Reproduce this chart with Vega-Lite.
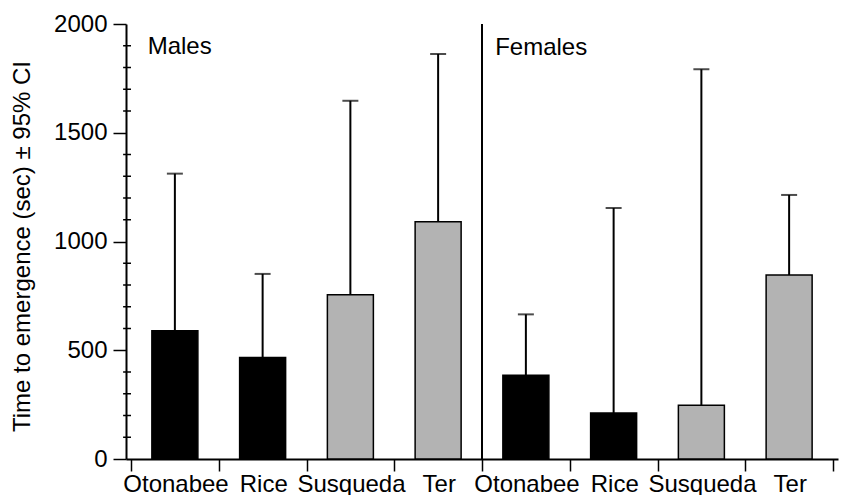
{
  "$schema": "https://vega.github.io/schema/vega-lite/v6.json",
  "width": 712,
  "height": 435,
  "autosize": {"type": "none"},
  "padding": {"left": 126, "top": 24, "right": 9, "bottom": 36},
  "background": "white",
  "config": {
    "view": {"stroke": null},
    "font": "Liberation Sans",
    "axis": {
      "labelFont": "Liberation Sans",
      "titleFont": "Liberation Sans",
      "labelColor": "black",
      "titleColor": "black",
      "domainColor": "black",
      "tickColor": "black",
      "domainWidth": 2,
      "tickWidth": 1.5,
      "labelFontSize": 24,
      "grid": false
    }
  },
  "datasets": {
    "bars": [
      {"pos": 0.5, "site": "Otonabee", "sex": "Males", "mean": 590, "upper": 1312, "river": "Canada"},
      {"pos": 1.5, "site": "Rice", "sex": "Males", "mean": 467, "upper": 851, "river": "Canada"},
      {"pos": 2.5, "site": "Susqueda", "sex": "Males", "mean": 755, "upper": 1647, "river": "Spain"},
      {"pos": 3.5, "site": "Ter", "sex": "Males", "mean": 1091, "upper": 1862, "river": "Spain"},
      {"pos": 4.5, "site": "Otonabee", "sex": "Females", "mean": 385, "upper": 665, "river": "Canada"},
      {"pos": 5.5, "site": "Rice", "sex": "Females", "mean": 211, "upper": 1154, "river": "Canada"},
      {"pos": 6.5, "site": "Susqueda", "sex": "Females", "mean": 247, "upper": 1792, "river": "Spain"},
      {"pos": 7.5, "site": "Ter", "sex": "Females", "mean": 846, "upper": 1214, "river": "Spain"}
    ],
    "labels": [
      {"text": "Males", "x": 0.19, "y": 1892},
      {"text": "Females", "x": 4.15, "y": 1890}
    ],
    "minor": [
      {"v": 100}, {"v": 200}, {"v": 300}, {"v": 400},
      {"v": 600}, {"v": 700}, {"v": 800}, {"v": 900},
      {"v": 1100}, {"v": 1200}, {"v": 1300}, {"v": 1400},
      {"v": 1600}, {"v": 1700}, {"v": 1800}, {"v": 1900}
    ]
  },
  "layer": [
    {
      "data": {"name": "bars"},
      "mark": {"type": "rule", "strokeWidth": 2, "color": "black"},
      "encoding": {
        "x": {
          "field": "pos",
          "type": "quantitative",
          "scale": {"domain": [0, 8], "nice": false, "zero": false},
          "axis": {
            "title": null,
            "values": [0, 1, 2, 3, 4, 5, 6, 7, 8],
            "labelExpr": "['Otonabee','Rice','Susqueda','Ter','Otonabee','Rice','Susqueda','Ter',''][datum.value]",
            "labelOffset": 44.5,
            "labelFontSize": 24,
            "labelPadding": 1,
            "labelFlush": false,
            "labelOverlap": false,
            "tickSize": 12
          }
        },
        "y": {
          "field": "mean",
          "type": "quantitative",
          "scale": {"domain": [0, 2000], "nice": false},
          "axis": {
            "title": "Time to emergence (sec) ± 95% CI",
            "titleFontSize": 24,
            "titleFontWeight": "normal",
            "titlePadding": 19,
            "titleY": 222,
            "values": [0, 500, 1000, 1500, 2000],
            "format": "d",
            "labelFontSize": 24,
            "labelPadding": 6,
            "labelOverlap": false,
            "labelFlush": false,
            "tickSize": 13
          }
        },
        "y2": {"field": "upper"}
      }
    },
    {
      "data": {"name": "minor"},
      "mark": {"type": "rule", "strokeWidth": 1.5, "color": "black"},
      "encoding": {
        "x": {"datum": -0.09, "type": "quantitative"},
        "x2": {"datum": 0},
        "y": {"field": "v", "type": "quantitative"}
      }
    },
    {
      "data": {"name": "bars"},
      "mark": {"type": "tick", "orient": "horizontal", "size": 16, "thickness": 2, "color": "black"},
      "encoding": {
        "x": {"field": "pos", "type": "quantitative"},
        "y": {"field": "upper", "type": "quantitative"}
      }
    },
    {
      "data": {"name": "bars"},
      "mark": {"type": "bar", "width": 46, "stroke": "black", "strokeWidth": 1.5},
      "encoding": {
        "x": {"field": "pos", "type": "quantitative"},
        "y": {"field": "mean", "type": "quantitative"},
        "fill": {
          "field": "river",
          "type": "nominal",
          "scale": {"domain": ["Canada", "Spain"], "range": ["#000000", "#b3b3b3"]},
          "legend": null
        }
      }
    },
    {
      "data": {"values": [{"x": 4, "y0": 0, "y1": 2000}]},
      "mark": {"type": "rule", "strokeWidth": 2, "color": "black"},
      "encoding": {
        "x": {"field": "x", "type": "quantitative"},
        "y": {"field": "y0", "type": "quantitative"},
        "y2": {"field": "y1"}
      }
    },
    {
      "data": {"name": "labels"},
      "mark": {"type": "text", "align": "left", "baseline": "middle", "fontSize": 24, "font": "Liberation Sans", "color": "black"},
      "encoding": {
        "x": {"field": "x", "type": "quantitative"},
        "y": {"field": "y", "type": "quantitative"},
        "text": {"field": "text"}
      }
    }
  ]
}
